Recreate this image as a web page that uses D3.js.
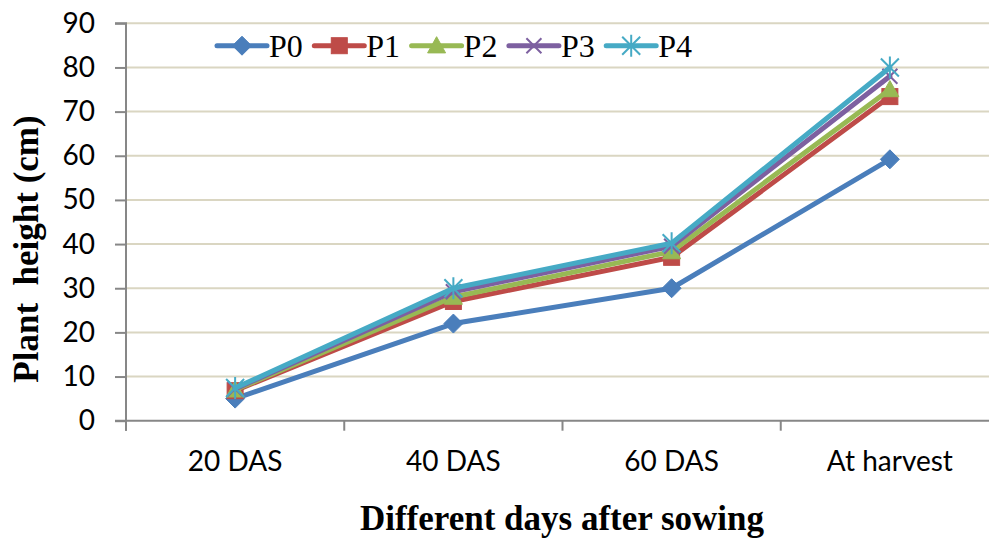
<!DOCTYPE html>
<html>
<head>
<meta charset="utf-8">
<script src="https://cdn.jsdelivr.net/npm/d3@7"></script>
<style>
  html, body { margin: 0; padding: 0; background: #ffffff; }
  svg { display: block; }
</style>
</head>
<body>
<svg id="chart" width="989" height="539"></svg>
<script>
// ---- data ----
const categories = ["20 DAS", "40 DAS", "60 DAS", "At harvest"];
const seriesNames = ["P0", "P1", "P2", "P3", "P4"];
const P0 = [5, 22, 30, 59.2];
const P1 = [6.8, 27, 37, 73.4];
const P2 = [7, 28, 38.3, 75];
const P3 = [7.2, 29.2, 39.5, 78];
const P4 = [7.4, 30, 40.2, 80];
const yTicks = [0, 10, 20, 30, 40, 50, 60, 70, 80, 90];
const xTitle = "Different days after sowing";
const yTitle = "Plant  height (cm)";

const seriesValues = [P0, P1, P2, P3, P4];
const colors = ["#4A7EBB", "#BE4B48", "#98B954", "#7D60A0", "#46AAC5"];
const markers = ["diamond", "square", "triangle", "x", "star"];

// ---- layout ----
const svg = d3.select("#chart");
const plotL = 126, plotR = 999, plotT = 23.3, plotB = 420.7;

const x = d3.scaleBand().domain(categories).range([plotL, plotR]).padding(0);
const y = d3.scaleLinear().domain([0, 90]).range([plotB, plotT]);
const cx = c => x(c) + x.bandwidth() / 2;

// gridlines
svg.append("g").selectAll("line")
  .data(yTicks.filter(t => t > 0))
  .join("line")
  .attr("x1", plotL).attr("x2", plotR)
  .attr("y1", d => y(d)).attr("y2", d => y(d))
  .attr("stroke", "#DAD6C2").attr("stroke-width", 2);

// y axis
const yAxis = svg.append("g")
  .attr("transform", `translate(${plotL},0)`)
  .call(d3.axisLeft(y).tickValues(yTicks).tickSize(11).tickPadding(20));
yAxis.select(".domain").attr("stroke", "#878787").attr("stroke-width", 2)
  .attr("d", `M-11,${plotT}H0V${plotB + 10}`);
yAxis.selectAll(".tick line").attr("stroke", "#878787").attr("stroke-width", 2);
yAxis.selectAll(".tick text")
  .attr("font-family", "Lato, 'Open Sans', sans-serif")
  .attr("font-size", 28).attr("fill", "#000");

// x axis
const xAxis = svg.append("g").attr("transform", `translate(0,${plotB})`);
xAxis.append("line").attr("x1", plotL - 11).attr("x2", plotR)
  .attr("y1", 0).attr("y2", 0).attr("stroke", "#878787").attr("stroke-width", 2);
const edges = categories.map(c => x(c)).concat([x.range()[1]]);
xAxis.selectAll("line.tk").data(edges).join("line").attr("class", "tk")
  .attr("x1", d => d).attr("x2", d => d).attr("y1", 0).attr("y2", 10)
  .attr("stroke", "#878787").attr("stroke-width", 2);
xAxis.selectAll("text").data(categories).join("text")
  .attr("x", d => cx(d)).attr("y", 50)
  .attr("text-anchor", "middle")
  .attr("font-family", "Lato, 'Open Sans', sans-serif")
  .attr("font-size", 28).attr("fill", "#000")
  .text(d => d);

// titles
svg.append("text")
  .attr("x", 562).attr("y", 530)
  .attr("text-anchor", "middle")
  .attr("font-family", "'Liberation Serif', 'Times New Roman', serif")
  .attr("font-weight", "bold").attr("font-size", 35)
  .text(xTitle);
svg.append("text")
  .attr("transform", "translate(38,249) rotate(-90)")
  .attr("text-anchor", "middle")
  .attr("font-family", "'Liberation Serif', 'Times New Roman', serif")
  .attr("font-weight", "bold").attr("font-size", 35)
  .style("white-space", "pre")
  .text(yTitle);

// marker drawing
function drawMarker(g, type, color, px, py) {
  if (type === "diamond") {
    const r = 9.5;
    g.append("path").attr("d", `M${px},${py - r}L${px + r},${py}L${px},${py + r}L${px - r},${py}Z`)
      .attr("fill", color).attr("stroke", color).attr("stroke-width", 1);
  } else if (type === "square") {
    const r = 8;
    g.append("rect").attr("x", px - r).attr("y", py - r).attr("width", 2 * r).attr("height", 2 * r)
      .attr("fill", color).attr("stroke", color).attr("stroke-width", 1);
  } else if (type === "triangle") {
    const r = 9;
    g.append("path").attr("d", `M${px},${py - r}L${px + r},${py + r * 0.8}L${px - r},${py + r * 0.8}Z`)
      .attr("fill", color).attr("stroke", color).attr("stroke-width", 1);
  } else if (type === "x") {
    const r = 7.5;
    g.append("path").attr("d", `M${px - r},${py - r}L${px + r},${py + r}M${px - r},${py + r}L${px + r},${py - r}`)
      .attr("stroke", color).attr("stroke-width", 2).attr("fill", "none");
  } else if (type === "star") {
    const r = 9;
    g.append("path").attr("d", `M${px - r},${py - r}L${px + r},${py + r}M${px - r},${py + r}L${px + r},${py - r}M${px},${py - r - 2}L${px},${py + r + 2}`)
      .attr("stroke", color).attr("stroke-width", 2).attr("fill", "none");
  }
}

// series
const line = d3.line().x((d, i) => cx(categories[i])).y(d => y(d));
seriesValues.forEach((vals, si) => {
  const g = svg.append("g");
  g.append("path").datum(vals).attr("d", line)
    .attr("fill", "none").attr("stroke", colors[si]).attr("stroke-width", 5)
    .attr("stroke-linejoin", "round").attr("stroke-linecap", "round");
  vals.forEach((v, i) => drawMarker(g, markers[si], colors[si], cx(categories[i]), y(v)));
});

// legend
const legendY = 45.7;
const legend = svg.append("g");
seriesNames.forEach((name, i) => {
  const lx = 217 + i * 97.3;
  const g = legend.append("g");
  g.append("line").attr("x1", lx).attr("x2", lx + 50).attr("y1", legendY).attr("y2", legendY)
    .attr("stroke", colors[i]).attr("stroke-width", 5).attr("stroke-linecap", "round");
  drawMarker(g, markers[i], colors[i], lx + 25, legendY);
  g.append("text").attr("x", lx + 52).attr("y", legendY + 11.5)
    .attr("font-family", "'Liberation Serif', 'Times New Roman', serif")
    .attr("font-size", 32).attr("fill", "#000")
    .text(name);
});
</script>
</body>
</html>
